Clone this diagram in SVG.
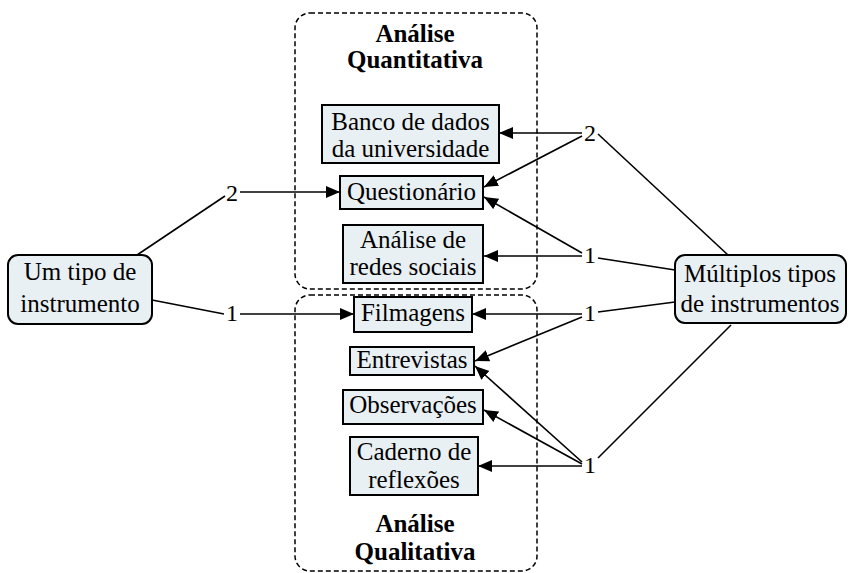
<svg xmlns="http://www.w3.org/2000/svg" width="849" height="573" viewBox="0 0 849 573">
  <style>
    .bg { fill: #ffffff; }
    .group { fill: none; stroke: #000; stroke-width: 1.5; stroke-dasharray: 5 3; }
    .box { fill: #e8f0f4; stroke: #000; stroke-width: 2; }
    .txt { font-family: "Liberation Serif", "Times New Roman", serif; font-size: 25px; fill: #000; text-anchor: middle; }
    .title { font-weight: bold; }
    .lbl { font-family: "Liberation Serif", "Times New Roman", serif; font-size: 24px; fill: #000; text-anchor: middle; }
    .edge { fill: none; stroke: #000; stroke-width: 1.6; }
    .arrow { marker-end: url(#head); }
  </style>
  <defs>
    <marker id="head" markerUnits="userSpaceOnUse" markerWidth="15" markerHeight="13" refX="14" refY="6" orient="auto">
      <path d="M0,0 L14,6 L0,12 z" fill="#000"/>
    </marker>
  </defs>
  <rect class="bg" x="0" y="0" width="849" height="573"/>

  <!-- dashed grouping frames -->
  <g id="quantitativa">
    <rect class="group" x="295" y="13" width="242" height="276" rx="15"/>
    <text class="txt title" x="415" y="42">Análise</text>
    <text class="txt title" x="415" y="68">Quantitativa</text>
  </g>
  <g id="qualitativa">
    <rect class="group" x="295" y="295" width="242" height="276" rx="15"/>
    <text class="txt title" x="415" y="532">Análise</text>
    <text class="txt title" x="415" y="560">Qualitativa</text>
  </g>

  <!-- connectors -->
  <g id="connectors">
    <path class="edge" d="M137,255 L225,196"/>
    <path class="edge arrow" d="M240,192 L340,192"/>
    <path class="edge" d="M152,300 L224,314"/>
    <path class="edge arrow" d="M240,314 L354,314"/>

    <path class="edge arrow" d="M582,133 L499,133"/>
    <path class="edge arrow" d="M582,136 L484,187"/>
    <path class="edge" d="M598,134 L728,255"/>

    <path class="edge arrow" d="M582,253 L484,197"/>
    <path class="edge arrow" d="M582,256 L484,256"/>
    <path class="edge" d="M598,258 L675,270"/>

    <path class="edge arrow" d="M582,314 L472,314"/>
    <path class="edge arrow" d="M582,317 L475,361"/>
    <path class="edge" d="M598,312 L675,302"/>

    <path class="edge arrow" d="M582,462 L475,366"/>
    <path class="edge arrow" d="M582,464 L484,410"/>
    <path class="edge arrow" d="M582,466 L478,466"/>
    <path class="edge" d="M598,458 L731,325"/>

    <text class="lbl" x="232" y="201">2</text>
    <text class="lbl" x="232" y="321">1</text>
    <text class="lbl" x="590" y="141">2</text>
    <text class="lbl" x="590" y="263">1</text>
    <text class="lbl" x="590" y="321">1</text>
    <text class="lbl" x="590" y="473">1</text>
  </g>

  <!-- source nodes -->
  <g id="um-tipo">
    <rect class="box" x="8" y="255" width="144" height="69" rx="10"/>
    <text class="txt" x="80" y="280">Um tipo de</text>
    <text class="txt" x="80" y="312">instrumento</text>
  </g>
  <g id="multiplos-tipos">
    <rect class="box" x="675" y="255" width="171" height="68" rx="10"/>
    <text class="txt" x="760" y="282">Múltiplos tipos</text>
    <text class="txt" x="760" y="312">de instrumentos</text>
  </g>

  <!-- instruments -->
  <g id="banco-dados">
    <rect class="box" x="322" y="105" width="177" height="58"/>
    <text class="txt" x="410.5" y="130">Banco de dados</text>
    <text class="txt" x="410.5" y="157">da universidade</text>
  </g>
  <g id="questionario">
    <rect class="box" x="340" y="176" width="143" height="33"/>
    <text class="txt" x="411.5" y="200">Questionário</text>
  </g>
  <g id="redes-sociais">
    <rect class="box" x="343" y="225" width="140" height="58"/>
    <text class="txt" x="413" y="248">Análise de</text>
    <text class="txt" x="413" y="275">redes sociais</text>
  </g>
  <g id="filmagens">
    <rect class="box" x="354" y="297" width="118" height="35"/>
    <text class="txt" x="413" y="321">Filmagens</text>
  </g>
  <g id="entrevistas">
    <rect class="box" x="350" y="347" width="124" height="28"/>
    <text class="txt" x="412" y="368">Entrevistas</text>
  </g>
  <g id="observacoes">
    <rect class="box" x="343" y="390" width="140" height="34"/>
    <text class="txt" x="413" y="413">Observações</text>
  </g>
  <g id="caderno">
    <rect class="box" x="350" y="437" width="128" height="58"/>
    <text class="txt" x="414" y="460">Caderno de</text>
    <text class="txt" x="414" y="488">reflexões</text>
  </g>
</svg>
